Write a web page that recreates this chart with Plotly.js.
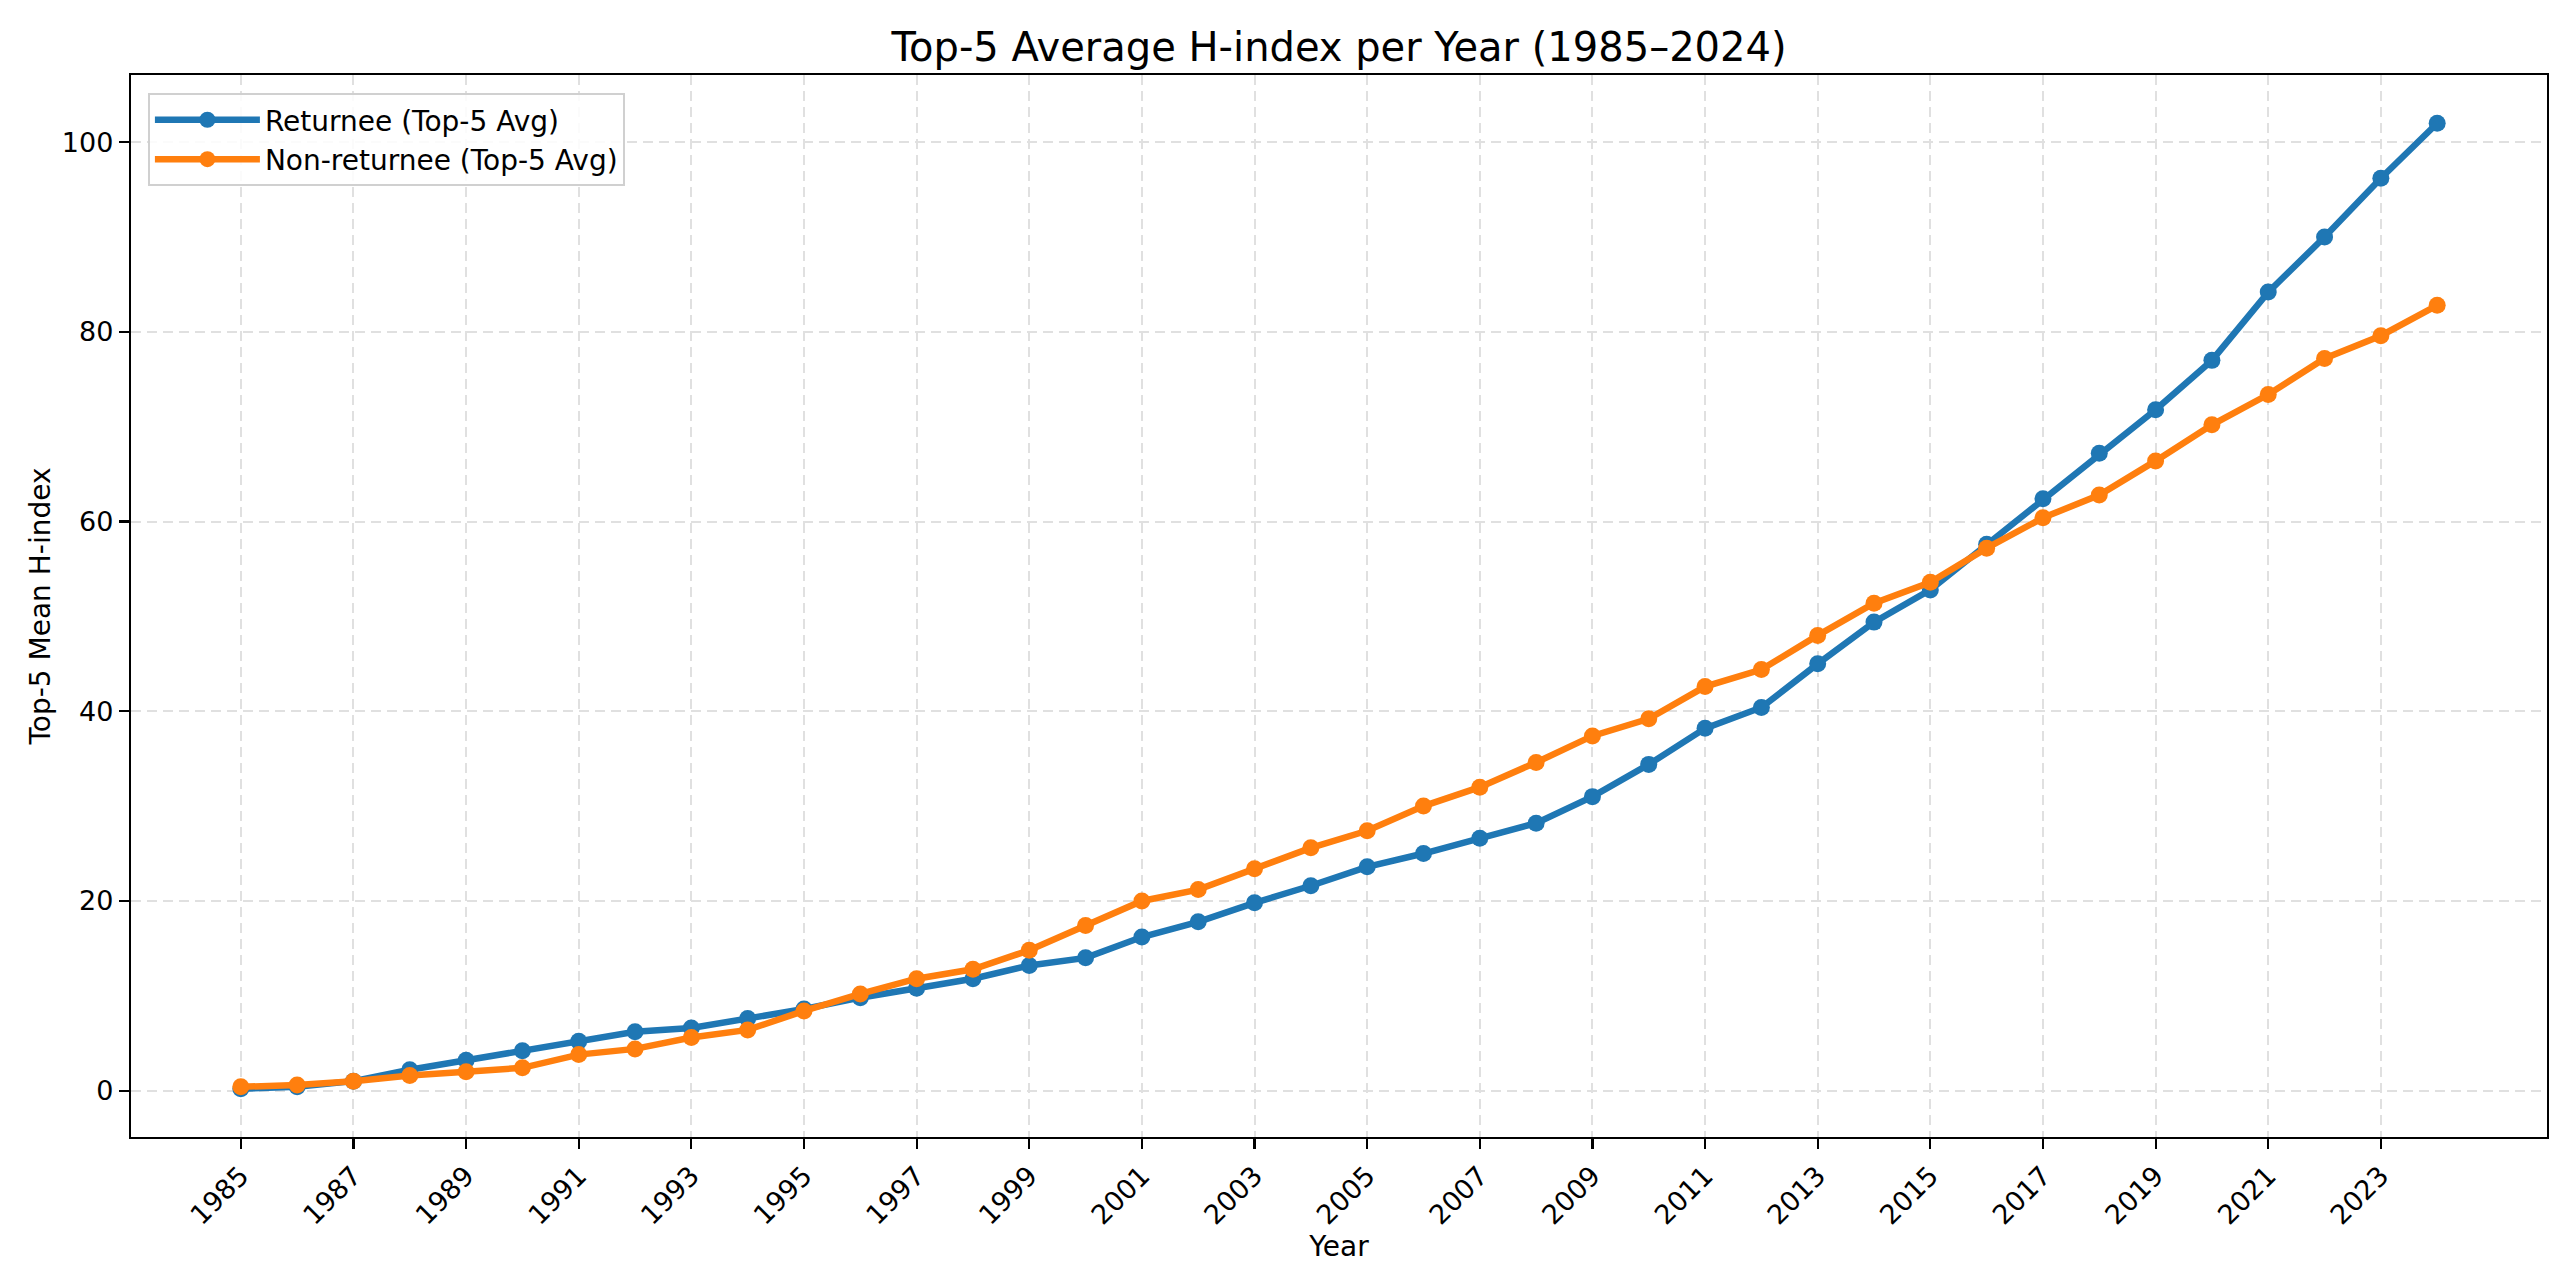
<!DOCTYPE html>
<html>
<head>
<meta charset="utf-8">
<script src="https://cdn.plot.ly/plotly-3.0.1.min.js"></script>
<style>html,body{margin:0;padding:0;background:#fff;}</style>
</head>
<body>
<div id="chart" style="width:2560px;height:1280px;"></div>
<script>
const years = [1985,1986,1987,1988,1989,1990,1991,1992,1993,1994,1995,1996,1997,1998,1999,2000,2001,2002,2003,2004,2005,2006,2007,2008,2009,2010,2011,2012,2013,2014,2015,2016,2017,2018,2019,2020,2021,2022,2023,2024];
const returnee = [0.2,0.4,1.0,2.2,3.2,4.2,5.2,6.2,6.6,7.6,8.6,9.8,10.8,11.8,13.2,14.0,16.2,17.8,19.8,21.6,23.6,25.0,26.6,28.2,31.0,34.4,38.2,40.4,45.0,49.4,52.8,57.6,62.4,67.2,71.8,77.0,84.2,90.0,96.2,102.0];
const nonReturnee = [0.4,0.6,1.0,1.6,2.0,2.4,3.8,4.4,5.6,6.4,8.4,10.2,11.8,12.8,14.8,17.4,20.0,21.2,23.4,25.6,27.4,30.0,32.0,34.6,37.4,39.2,42.6,44.4,48.0,51.4,53.6,57.2,60.4,62.8,66.4,70.2,73.4,77.2,79.6,82.8];
const xTicks = [1985,1987,1989,1991,1993,1995,1997,1999,2001,2003,2005,2007,2009,2011,2013,2015,2017,2019,2021,2023];
const yTicks = [0,20,40,60,80,100];

const font = "DejaVu Sans, sans-serif";
const traces = [
  {x: years, y: returnee, name: "Returnee (Top-5 Avg)", mode: "lines+markers",
   line: {color: "#1f77b4", width: 6.5}, marker: {color: "#1f77b4", size: 17}},
  {x: years, y: nonReturnee, name: "Non-returnee (Top-5 Avg)", mode: "lines+markers",
   line: {color: "#ff7f0e", width: 6.5}, marker: {color: "#ff7f0e", size: 17}}
];
const axisCommon = {
  showline: true, linecolor: "#000", linewidth: 2.2, mirror: true,
  ticks: "outside", ticklen: 10, tickwidth: 2.2, tickcolor: "#000",
  showgrid: true, gridcolor: "#e0e0e0", gridwidth: 2, griddash: "10px,6px",
  zeroline: false, tickfont: {family: font, size: 27, color: "#000"}
};
const layout = {
  width: 2560, height: 1280,
  paper_bgcolor: "#fff", plot_bgcolor: "#fff",
  margin: {l: 131, r: 13, t: 75, b: 143},
  title: {text: "Top-5 Average H-index per Year (1985–2024)", font: {family: font, size: 40, color: "#000"},
          x: 0.5, xref: "paper", xanchor: "center", y: 0.963, yanchor: "middle"},
  xaxis: Object.assign({}, axisCommon, {
    range: [1983.05, 2025.95], tickmode: "array", tickvals: xTicks, ticktext: xTicks.map(String),
    tickangle: -45,
    title: {text: "Year", font: {family: font, size: 28, color: "#000"}, standoff: 0}
  }),
  yaxis: Object.assign({}, axisCommon, {
    range: [-4.89, 107.09], tickmode: "array", tickvals: yTicks, ticktext: yTicks.map(String),
    title: {text: "Top-5 Mean H-index", font: {family: font, size: 28, color: "#000"}, standoff: 3}
  }),
  legend: {x: 0.007, y: 0.983, xanchor: "left", yanchor: "top",
    bgcolor: "rgba(255,255,255,0.85)", bordercolor: "#d0d0d0", borderwidth: 2,
    font: {family: font, size: 28, color: "#000"}, itemwidth: 105, tracegroupgap: 6},
  showlegend: true
};
Plotly.newPlot("chart", traces, layout, {displayModeBar: false, staticPlot: true});
</script>
</body>
</html>
